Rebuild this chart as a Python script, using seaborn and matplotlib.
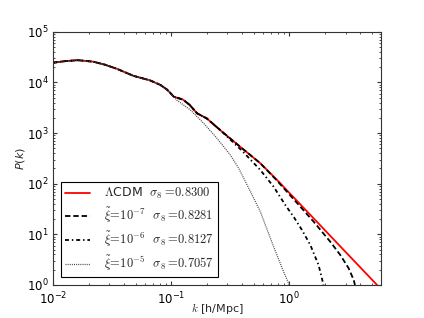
import numpy as np
import pandas as pd
import seaborn as sns
import matplotlib
matplotlib.use("Agg")
import matplotlib.pyplot as plt

# power spectrum (k in h/Mpc)
k_lcdm = [0.0100, 0.0126, 0.0162, 0.0219, 0.0275, 0.0347, 0.0479, 0.0661, 0.0813,
          0.0933, 0.105, 0.126, 0.143, 0.166, 0.200, 0.269, 0.398, 0.568, 0.787,
          1.585, 3.16, 5.53]
P_lcdm = [24500, 26300, 27500, 25700, 22400, 18600, 13500, 11000, 8900,
          7080, 5250, 4570, 3630, 2450, 1950, 1070, 501, 254, 119,
          21.4, 3.94, 1.0]

k_xi7 = k_lcdm[:18] + [0.787, 1.122, 1.607, 2.22, 2.70, 3.18, 3.51, 3.60]
P_xi7 = P_lcdm[:18] + [115, 45.7, 17.8, 7.18, 3.92, 2.14, 1.26, 1.0]

k_xi6 = k_lcdm[:16] + [0.398, 0.568, 0.736, 0.925, 1.086, 1.28, 1.507, 1.77, 1.95]
P_xi6 = P_lcdm[:16] + [447, 187, 87.7, 38.0, 22.4, 12.2, 6.17, 2.48, 1.0]

k_xi5 = k_lcdm[:9] + [0.0933, 0.1117, 0.145, 0.188, 0.244, 0.316, 0.372, 0.468,
                      0.568, 0.736, 0.871, 1.0]
P_xi5 = P_lcdm[:9] + [6900, 4470, 2880, 1570, 794, 372, 204, 70.8,
                      28.2, 5.75, 2.14, 1.0]

labels = [r"$\Lambda$CDM  $\sigma_8 =\!0.8300$",
          r"$\tilde{\xi}\!=\!10^{-7}$  $\sigma_8 =\!0.8281$",
          r"$\tilde{\xi}\!=\!10^{-6}$  $\sigma_8 =\!0.8127$",
          r"$\tilde{\xi}\!=\!10^{-5}$  $\sigma_8 =\!0.7057$"]

sns.set_style("ticks")
plt.rcParams.update({
    "font.family": ["DejaVu Sans"],
    "font.size": 8.5,
    "xtick.direction": "in",
    "ytick.direction": "in",
    "xtick.top": True,
    "ytick.right": True,
    "xtick.major.size": 3,
    "ytick.major.size": 3,
    "xtick.minor.size": 1.5,
    "ytick.minor.size": 1.5,
    "xtick.major.pad": 3,
    "ytick.major.pad": 3,
    "axes.linewidth": 0.8,
    "axes.edgecolor": "#333333",
})

fig = plt.figure(figsize=(4.24, 3.18), dpi=100)
ax = fig.add_axes([0.125, 0.104, 0.774, 0.796])
ax.set_xscale("log")
ax.set_yscale("log")

series = [(k_lcdm, P_lcdm, "red", "-", 1.3),
          (k_xi7, P_xi7, "black", (0, (3, 1.6)), 1.3),
          (k_xi6, P_xi6, "black", (0, (2.2, 1.6, 0.8, 1.6)), 1.3),
          (k_xi5, P_xi5, "#444444", (0, (0.8, 0.9)), 0.9)]

for (k, P, col, ls, lw), lab in zip(series, labels):
    df = pd.DataFrame({"k": k, "P": P})
    sns.lineplot(data=df, x="k", y="P", ax=ax, color=col, linestyle=ls,
                 linewidth=lw, label=lab, sort=False, estimator=None)

ax.set_xlim(1e-2, 6)
ax.set_ylim(1e0, 1e5)
ax.set_xlabel(r"$k$ [h/Mpc]", fontsize=8)
ax.xaxis.set_label_coords(0.5, -0.062)
ax.set_ylabel(r"$P(k)$", fontsize=8, labelpad=0)
ax.xaxis.label.set_math_fontfamily("cm")
ax.tick_params(which="both", colors="#333333", labelcolor="black", labelsize=8.5)
ax.tick_params(axis="x", pad=4.5)

leg = ax.legend(loc="lower left", fontsize=9, frameon=True, fancybox=False,
                edgecolor="black", framealpha=1, handlelength=2.0,
                labelspacing=0.38, borderaxespad=0.6, borderpad=0.35,
                handletextpad=1.1)
leg.get_frame().set_linewidth(0.8)
for t in leg.get_texts():
    t.set_math_fontfamily("cm")

fig.savefig("out.png", dpi=100)
